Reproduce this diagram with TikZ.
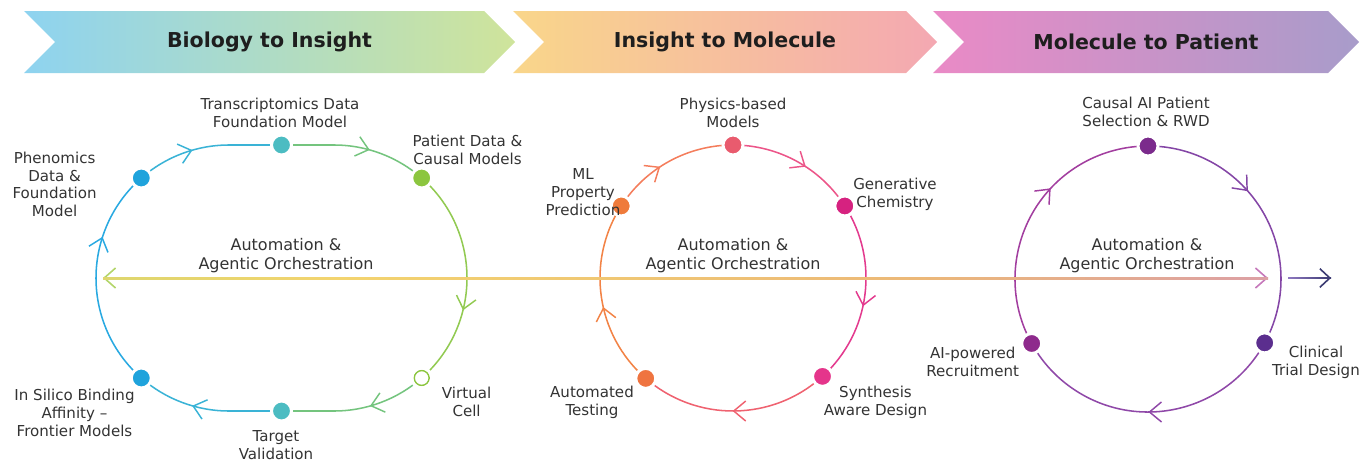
\documentclass[tikz,border=0pt]{standalone}
\usepackage{fontspec}
\setmainfont{DejaVu Sans}
\usetikzlibrary{arrows.meta,positioning,shapes.symbols,decorations.markings,calc}
\pgfdeclarelayer{bg}
\pgfsetlayers{bg,main}

\definecolor{bioL}{HTML}{8ED3F0}
\definecolor{bioR}{HTML}{CFE49B}
\definecolor{insL}{HTML}{F9D68A}
\definecolor{insR}{HTML}{F4A8B2}
\definecolor{molL}{HTML}{EA8AC6}
\definecolor{molR}{HTML}{A89CCA}
\definecolor{titletext}{HTML}{1E1E1E}
\definecolor{labeltext}{HTML}{333333}
\definecolor{bluedot}{HTML}{1FA3DC}
\definecolor{tealdot}{HTML}{4CBCC2}
\definecolor{greendot}{HTML}{8CC63F}
\definecolor{segleft}{HTML}{29A9E1}
\definecolor{segteal}{HTML}{3AB3D6}
\definecolor{segmint}{HTML}{74C47E}
\definecolor{segright}{HTML}{92CA52}
\definecolor{physdot}{HTML}{E95B6E}
\definecolor{gendot}{HTML}{D62280}
\definecolor{syndot}{HTML}{E5358B}
\definecolor{testdot}{HTML}{EF7440}
\definecolor{mldot}{HTML}{EF7B3B}
\definecolor{mlseg}{HTML}{F47D5C}
\definecolor{physseg}{HTML}{EC5589}
\definecolor{genseg}{HTML}{E33A8E}
\definecolor{synseg}{HTML}{EF6270}
\definecolor{testseg}{HTML}{F28346}
\definecolor{causaldot}{HTML}{7B2B8C}
\definecolor{clindot}{HTML}{5B2E8E}
\definecolor{recdot}{HTML}{8E2A8C}
\definecolor{causalseg}{HTML}{8446A6}
\definecolor{clinseg}{HTML}{8F48A8}
\definecolor{recseg}{HTML}{A23E9F}
\definecolor{orchA}{HTML}{B3D56A}
\definecolor{orchB}{HTML}{C8D86C}
\definecolor{orchC}{HTML}{F3D46F}
\definecolor{orchD}{HTML}{ECB878}
\definecolor{orchE}{HTML}{D99BAE}
\definecolor{orchF}{HTML}{C679BB}
\definecolor{outA}{HTML}{8E78C0}
\definecolor{outB}{HTML}{3B3A72}

\pgfdeclarehorizontalshading{orchshade}{100bp}{color(0bp)=(orchA); color(15bp)=(orchB);
  color(35bp)=(orchC); color(60bp)=(orchD); color(78bp)=(orchE); color(100bp)=(orchF)}

\begin{document}
\begin{tikzpicture}[
    x=0.75pt,y=0.75pt,
    flowtip/.tip={Straight Barb[length=9pt,width=15pt,line width=1.1pt]},
    banner/.style={signal,signal from=west,signal to=east,minimum height=46.5pt,
      inner sep=0pt,font=\fontsize{15.4}{18}\selectfont\bfseries,text=titletext},
    dot/.style={circle,minimum size=15pt,inner sep=0pt,draw=white,line width=2.25pt,fill=#1},
    hollowdot/.style={dot=white,path picture={\draw[#1,line width=1.1pt]
      (path picture bounding box.center) circle[radius=5.6pt];}},
    lbl/.style={align=center,font=\fontsize{11.3}{13.3}\selectfont,text=labeltext,inner sep=0pt},
    hub/.style={lbl,font=\fontsize{12}{14.3}\selectfont},
    seg/.style 2 args={draw=#1,line width=1.15pt,
      postaction={decorate,decoration={markings,mark=at position #2 with {\arrow{flowtip}}}}}]
    \useasboundingbox (0,0) rectangle (1364,462);

    \node[banner,minimum width=368.25pt,left color=bioL,right color=bioR] (bio) at (269.5,420) {Biology to Insight};
    \node[banner,minimum width=318pt,left color=insL,right color=insR] (ins) at (725,420) {Insight to Molecule};
    \node[banner,minimum width=319.5pt,left color=molL,right color=molR] (mol) at (1146,420) {Molecule to Patient};

    \coordinate (c1l) at (229,184);
    \coordinate (c1r) at (334,184);
    \coordinate (c2) at (733,184);
    \coordinate (c3) at (1148,183);

    \node[dot=bluedot] (phen) at ($(c1l)+(131.25:133)$) {};
    \node[dot=tealdot] (trans) at (281.5,317) {};
    \node[dot=greendot] (patient) at ($(c1r)+(48.75:133)$) {};
    \node[hollowdot=greendot] (virtual) at ($(c1r)+(-48.75:133)$) {};
    \node[dot=tealdot] (target) at (281.5,51) {};
    \node[dot=bluedot] (silico) at ($(c1l)+(228.75:133)$) {};

    \node[dot=physdot] (phys) at ($(c2)+(90:133)$) {};
    \node[dot=gendot] (gen) at ($(c2)+(32.8:133)$) {};
    \node[dot=syndot] (synth) at ($(c2)+(-47.7:133)$) {};
    \node[dot=testdot] (test) at ($(c2)+(229:133)$) {};
    \node[dot=mldot] (mlprop) at ($(c2)+(147.2:133)$) {};

    \node[dot=causaldot] (causal) at ($(c3)+(90:133)$) {};
    \node[dot=clindot] (clinical) at ($(c3)+(-28.7:133)$) {};
    \node[dot=recdot] (recruit) at ($(c3)+(209:133)$) {};

    \node[lbl] (transtxt) at (280,349) {Transcriptomics Data\\Foundation Model};
    \node[lbl] (patienttxt) at (467.5,312) {Patient Data \&\\Causal Models};
    \node[lbl] (phentxt) at (54.6,277.5) {Phenomics\\Data \&\\Foundation\\Model};
    \node[hub] (hub1) at (286,206) {Automation \&\\Agentic Orchestration};
    \node[lbl] (silicotxt) at (74.5,49) {In Silico Binding\\Affinity –\\Frontier Models};
    \node[lbl] (targettxt) at (276,17) {Target\\Validation};
    \node[lbl] (virtualtxt) at (466.6,60) {Virtual\\Cell};

    \node[lbl] (phystxt) at (733,349) {Physics-based\\Models};
    \node[lbl] (gentxt) at (895,267.5) {Generative\\Chemistry};
    \node[lbl] (mltxt) at (583,270) {ML\\Property\\Prediction};
    \node[hub] (hub2) at (733,206) {Automation \&\\Agentic Orchestration};
    \node[lbl] (testtxt) at (592,60) {Automated\\Testing};
    \node[lbl] (synthtxt) at (875.5,60) {Synthesis\\Aware Design};

    \node[lbl] (causaltxt) at (1146,350) {Causal AI Patient\\Selection \& RWD};
    \node[hub] (hub3) at (1147,206) {Automation \&\\Agentic Orchestration};
    \node[lbl] (recruittxt) at (972.7,100) {AI-powered\\Recruitment};
    \node[lbl] (clinicaltxt) at (1316,100) {Clinical\\Trial Design};

    \coordinate (orchL) at (103,184);
    \coordinate (orchR) at (1268,184);
    \coordinate (outS) at (1288,184);
    \coordinate (outE) at (1331,184);

    \begin{pgfonlayer}{bg}
    \draw[seg={segleft}{0.685}] (silico) arc[start angle=228.75,end angle=131.25,radius=133];
    \draw[seg={segteal}{0.43}] (phen) arc[start angle=131.25,end angle=90,radius=133] -- (trans);
    \draw[seg={segmint}{0.565}] (trans) -- (334,317) arc[start angle=90,end angle=48.75,radius=133];
    \draw[seg={segright}{0.644}] (patient) arc[start angle=48.75,end angle=-48.75,radius=133];
    \draw[seg={segmint}{0.434}] (virtual) arc[start angle=-48.75,end angle=-90,radius=133] -- (target);
    \draw[seg={segteal}{0.573}] (target) -- (229,51) arc[start angle=270,end angle=228.75,radius=133];

    \draw[seg={physseg}{0.58}] (phys) arc[start angle=90,end angle=32.8,radius=133];
    \draw[seg={genseg}{0.56}] (gen) arc[start angle=32.8,end angle=-47.7,radius=133];
    \draw[seg={synseg}{0.51}] (synth) arc[start angle=-47.7,end angle=-131,radius=133];
    \draw[seg={testseg}{0.445}] (test) arc[start angle=229,end angle=147.2,radius=133];
    \draw[seg={mlseg}{0.42}] (mlprop) arc[start angle=147.2,end angle=90,radius=133];

    \draw[seg={causalseg}{0.41}] (causal) arc[start angle=90,end angle=-28.7,radius=133];
    \draw[seg={clinseg}{0.5}] (clinical) arc[start angle=-28.7,end angle=-151,radius=133];
    \draw[seg={recseg}{0.605}] (recruit) arc[start angle=209,end angle=90,radius=133];

    \draw[line width=1.5pt,draw=orchC,
      {Straight Barb[length=8.5pt,width=15pt,line width=1.2pt,color=orchA]}-{Straight Barb[length=8.5pt,width=15pt,line width=1.2pt,color=orchF]}]
      (orchL) -- (orchR);
    \shade[shading=orchshade] ($(orchL)+(0,-1)$) rectangle ($(orchR)+(0,1)$);
    \draw[line width=1.2pt,draw=outA,-{Straight Barb[length=7.5pt,width=14pt,line width=1.2pt,color=outB]}] (outS) -- (outE);
    \shade[left color=outA,right color=outB] ($(outS)+(0,-0.8)$) rectangle ($(outE)+(0,0.8)$);
    \end{pgfonlayer}
  \end{tikzpicture}
\end{document}
